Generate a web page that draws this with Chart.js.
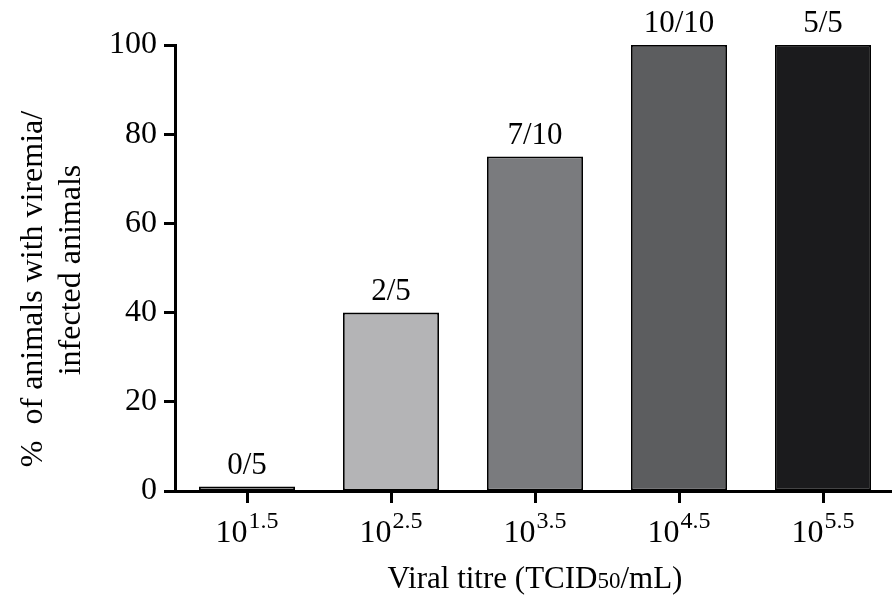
<!DOCTYPE html>
<html>
<head>
<meta charset="utf-8">
<script src="https://cdn.jsdelivr.net/npm/chart.js@4"></script>
<style>
  html, body { margin: 0; padding: 0; background: #fff; overflow: hidden; }
  #wrap { width: 895px; height: 597px; }
</style>
</head>
<body>
<div id="wrap"><canvas id="chart"></canvas></div>
<script>
const categories = ["10^1.5", "10^2.5", "10^3.5", "10^4.5", "10^5.5"];
const exponents = ["1.5", "2.5", "3.5", "4.5", "5.5"];
const percentViremia = [1, 40, 75, 100, 100];
const ratioLabels = ["0/5", "2/5", "7/10", "10/10", "5/5"];
const barColors = ["#9a9a9a", "#b4b4b6", "#7a7b7e", "#5c5d5f", "#1b1b1d"];
const yTitle = ["%  of animals with viremia/", "infected animals"];
const xTitle = ["Viral titre (TCID", "50", "/mL)"];

const SERIF = '"Liberation Serif", "DejaVu Serif", serif';

const extras = {
  id: "extras",
  afterDraw(chart) {
    const ctx = chart.ctx;
    const xs = chart.scales.x;
    const area = chart.chartArea;
    ctx.save();
    ctx.fillStyle = "#000";
    ctx.textBaseline = "alphabetic";

    // n/N labels above each bar
    ctx.font = "31px " + SERIF;
    ctx.textAlign = "center";
    chart.getDatasetMeta(0).data.forEach((bar, i) => {
      ctx.fillText(ratioLabels[i], bar.x, bar.y - 13);
    });

    // x tick labels as 10 with a raised exponent
    ctx.textAlign = "left";
    exponents.forEach((e, i) => {
      const px = xs.getPixelForTick(i);
      ctx.font = "32px " + SERIF;
      const w1 = ctx.measureText("10").width;
      ctx.font = "24px " + SERIF;
      const w2 = ctx.measureText(e).width;
      const left = px - (w1 + w2 + 1) / 2;
      ctx.font = "32px " + SERIF;
      ctx.fillText("10", left, area.bottom + 51);
      ctx.font = "24px " + SERIF;
      ctx.fillText(e, left + w1 + 1, area.bottom + 37);
    });

    // x axis title with smaller 50
    const fonts = ["31px " + SERIF, "23px " + SERIF, "31px " + SERIF];
    const widths = xTitle.map((t, i) => { ctx.font = fonts[i]; return ctx.measureText(t).width; });
    let tx = 535 - widths.reduce((a, b) => a + b, 0) / 2;
    xTitle.forEach((t, i) => {
      ctx.font = fonts[i];
      ctx.fillText(t, tx, area.bottom + 97);
      tx += widths[i];
    });

    // y axis title, two rotated lines
    ctx.textAlign = "center";
    ctx.font = "32px " + SERIF;
    const lines = [{ x: 42, y: 289 }, { x: 80, y: 270 }];
    yTitle.forEach((t, i) => {
      ctx.save();
      ctx.translate(lines[i].x, lines[i].y);
      ctx.rotate(-Math.PI / 2);
      ctx.fillText(t, 0, 0);
      ctx.restore();
    });
    ctx.restore();
  }
};

new Chart(document.getElementById("chart"), {
  type: "bar",
  data: {
    labels: categories,
    datasets: [{
      data: percentViremia,
      backgroundColor: barColors,
      borderColor: "#000",
      borderWidth: 1.8,
      borderSkipped: false,
      barPercentage: 0.667,
      categoryPercentage: 1
    }]
  },
  options: {
    responsive: true,
    maintainAspectRatio: false,
    animation: false,
    layout: { padding: { top: 45, right: 0, left: 0, bottom: 0 } },
    plugins: { legend: { display: false }, tooltip: { enabled: false } },
    scales: {
      x: {
        afterFit(scale) { scale.height = 106; },
        ticks: { display: false },
        grid: {
          display: true, drawOnChartArea: false, drawTicks: true, offset: false,
          tickLength: 12, tickWidth: 3, tickColor: "#000"
        },
        border: { display: true, color: "#000", width: 3 }
      },
      y: {
        min: 0,
        max: 100,
        afterFit(scale) { scale.width = 175; },
        ticks: { stepSize: 20, color: "#000", font: { family: SERIF, size: 32 }, padding: 7 },
        grid: {
          display: true, drawOnChartArea: false, drawTicks: true,
          tickLength: 11, tickWidth: 3, tickColor: "#000"
        },
        border: { display: true, color: "#000", width: 3 }
      }
    }
  },
  plugins: [extras]
});
</script>
</body>
</html>
